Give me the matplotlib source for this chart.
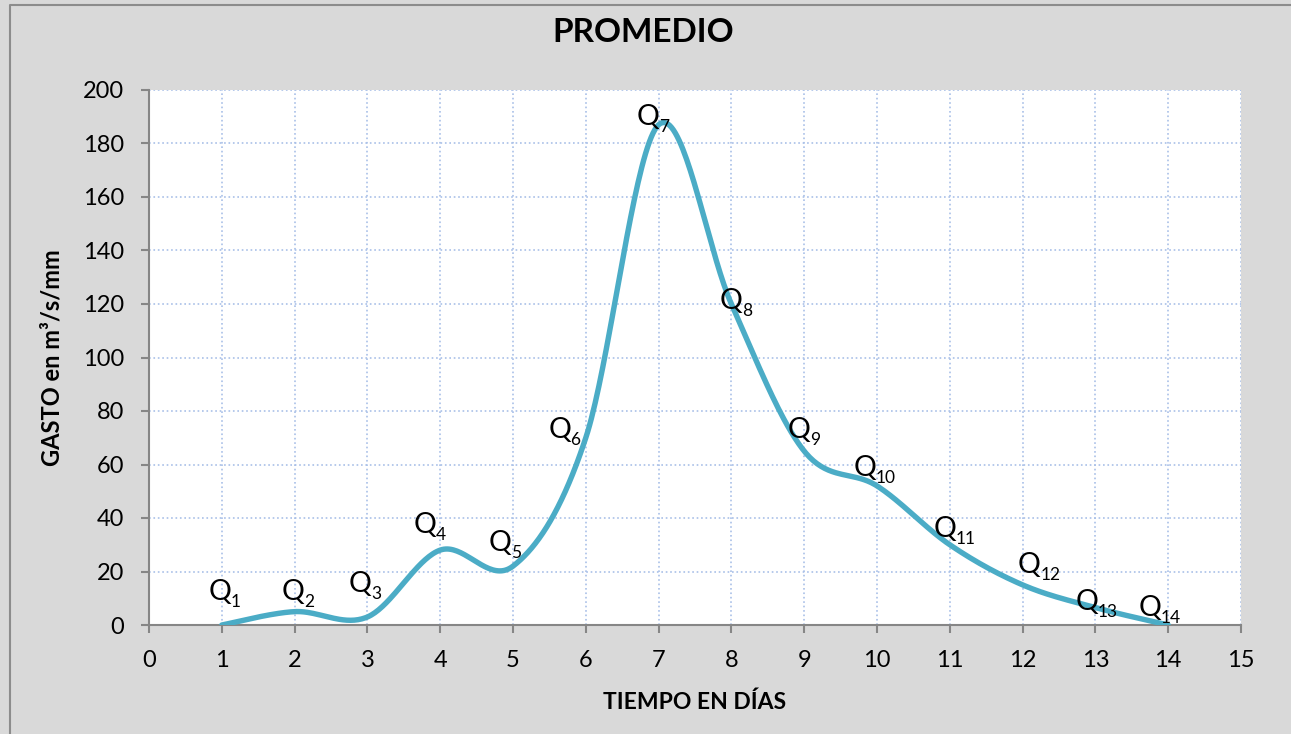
import numpy as np
import matplotlib.pyplot as plt
from matplotlib.lines import Line2D
import matplotlib.transforms as mtransforms

plt.rcParams['font.family'] = ['Lato', 'DejaVu Sans']

# data
dias = [1, 2, 3, 4, 5, 6, 7, 8, 9, 10, 11, 12, 13, 14]
gasto = [0, 5, 3, 28, 22, 70, 187, 120, 65, 52, 30, 15, 6.5, 0]
subindices = [str(d) for d in dias]
# where each Q label sits (data coords of the Q glyph centre)
lab_x = [0.97, 1.98, 2.90, 3.79, 4.82, 5.64, 6.85, 7.99, 8.93, 9.83, 10.93, 12.09, 12.88, 13.75]
lab_y = [13, 13, 16, 38, 31.5, 73.5, 190.5, 122, 73.5, 59.5, 36.5, 23, 9.5, 7]

LINE = '#4bacc6'
GRID = '#a9c0e8'
AX = '#868686'


def smooth(x, y, n=40):
    # excel-like smoothed line (bezier through the points)
    x = np.asarray(x, float)
    y = np.asarray(y, float)
    px = np.concatenate([[x[0]], x, [x[-1]]])
    py = np.concatenate([[y[0]], y, [y[-1]]])
    xs, ys = [], []
    t = np.linspace(0, 1, n)
    for i in range(1, len(px) - 2):
        p0, p1, p2, p3 = [np.array([px[j], py[j]]) for j in (i - 1, i, i + 1, i + 2)]
        c1 = p1 + (p2 - p0) / 6
        c2 = p2 - (p3 - p1) / 6
        b = ((1 - t) ** 3)[:, None] * p1 + (3 * (1 - t) ** 2 * t)[:, None] * c1 \
            + (3 * (1 - t) * t ** 2)[:, None] * c2 + (t ** 3)[:, None] * p2
        xs.append(b[:, 0])
        ys.append(b[:, 1])
    return np.concatenate(xs), np.concatenate(ys)


fig = plt.figure(figsize=(12.91, 7.34), dpi=100, facecolor='#d9d9d9')
# chart border (only left and top edges fall inside the picture)
fig.lines.append(Line2D([9.5 / 1291, 9.5 / 1291, 1.0], [0, 1 - 5 / 734, 1 - 5 / 734],
                        transform=fig.transFigure, color='#8c8c8c', lw=1.5))
ax = fig.add_axes([149 / 1291, 1 - 625 / 734, (1241 - 149) / 1291, (625 - 90) / 734])
ax.set_facecolor('white')

sx, sy = smooth(dias, gasto)
ax.plot(sx, sy, color=LINE, lw=3.9, solid_capstyle='round', zorder=3)

for lx, ly, s in zip(lab_x, lab_y, subindices):
    tq = mtransforms.offset_copy(ax.transData, fig=fig, x=0, y=-10, units='dots')
    ax.text(lx, ly, 'Q', transform=tq, fontsize=20.5, ha='center', va='baseline', zorder=4)
    ts = mtransforms.offset_copy(ax.transData, fig=fig, x=11, y=-17, units='dots')
    ax.text(lx, ly, s, transform=ts, fontsize=12.5, ha='left', va='baseline', zorder=4)

ax.set_xlim(0, 15)
ax.set_ylim(0, 200)
ax.set_xticks(range(0, 16))
ax.set_yticks(range(0, 201, 20))
ax.grid(True, color=GRID, ls=':', lw=1.2)
ax.set_axisbelow(True)

for s in ['top', 'right']:
    ax.spines[s].set_visible(False)
for s in ['left', 'bottom']:
    ax.spines[s].set_color(AX)
    ax.spines[s].set_linewidth(1.5)
ax.tick_params(axis='both', colors=AX, length=6, width=1.5, labelsize=17, labelcolor='black')
ax.tick_params(axis='x', pad=12)
ax.tick_params(axis='y', pad=12)

ax.set_xlabel('TIEMPO EN DÍAS', fontsize=16.5, fontweight='bold', labelpad=15)
ax.set_ylabel('GASTO en m³/s/mm', fontsize=17, fontweight='bold', labelpad=14)
fig.text(643 / 1291, 1 - 33 / 734, 'PROMEDIO', fontsize=24, fontweight='bold',
         ha='center', va='center')

fig.savefig('out.png', dpi=100, facecolor=fig.get_facecolor())
